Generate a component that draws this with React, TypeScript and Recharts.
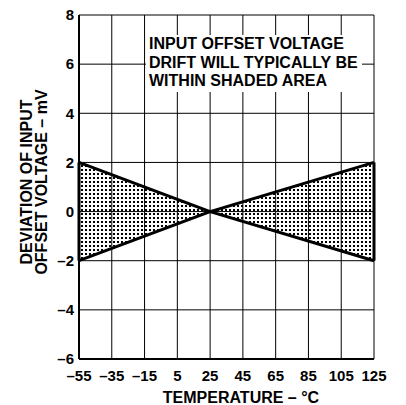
import {
  Area,
  CartesianGrid,
  ComposedChart,
  ReferenceLine,
  XAxis,
  YAxis,
} from 'recharts';

const temps = [-55, 25, 125];
const upper = [2, 0, 2];
const lower = [-2, 0, -2];

const xTicks = [-55, -35, -15, 5, 25, 45, 65, 85, 105, 125];
const yTicks = [-6, -4, -2, 0, 2, 4, 6, 8];

const noteLines = [
  'INPUT OFFSET VOLTAGE',
  'DRIFT WILL TYPICALLY BE',
  'WITHIN SHADED AREA',
];

const data = temps.map((t, i) => ({ t, band: [lower[i], upper[i]] }));

const font = 'Arial, "Liberation Sans", Helvetica, sans-serif';
const dash = (v: number) => String(v).replace('-', '\u2013');

const last = temps.length - 1;

export default function App() {
  return (
    <div style={{ position: 'fixed', left: 0, top: 0, width: 406, height: 405, background: '#fff' }}>
      <ComposedChart
        width={406}
        height={405}
        data={data}
        margin={{ top: 15, right: 32, bottom: 0, left: 0 }}
      >
        <defs>
          <pattern id="dots" x={0} y={0} width={4} height={4} patternUnits="userSpaceOnUse">
            <rect x={1} y={1} width={2} height={2} fill="#000" />
          </pattern>
        </defs>
        <CartesianGrid stroke="#000" strokeWidth={1} />
        <XAxis
          dataKey="t"
          type="number"
          domain={[-55, 125]}
          ticks={xTicks}
          height={46}
          tickLine={false}
          tickSize={0}
          tickMargin={11}
          axisLine={{ stroke: '#000', strokeWidth: 2 }}
          tickFormatter={dash}
          tick={{ fill: '#000', fontSize: 15, fontWeight: 'bold', fontFamily: font }}
          label={{
            content: () => (
              <text
                x={241}
                y={403}
                textAnchor="middle"
                fill="#000"
                fontSize={16}
                fontWeight="bold"
                fontFamily={font}
              >
                {'TEMPERATURE \u2013 \u00b0C'}
              </text>
            ),
          }}
        />
        <YAxis
          type="number"
          domain={[-6, 8]}
          ticks={yTicks}
          width={79}
          tickLine={false}
          tickSize={0}
          tickMargin={5}
          axisLine={{ stroke: '#000', strokeWidth: 2 }}
          tickFormatter={dash}
          tick={{ fill: '#000', fontSize: 15, fontWeight: 'bold', fontFamily: font }}
          label={{
            content: () => (
              <g fontFamily={font} fontSize={16} fontWeight="bold" fill="#000">
                <text x={26} y={182} textAnchor="middle" dominantBaseline="central" transform="rotate(-90 26 182)">
                  DEVIATION OF INPUT
                </text>
                <text x={41} y={182} textAnchor="middle" dominantBaseline="central" transform="rotate(-90 41 182)">
                  {'OFFSET VOLTAGE \u2013 mV'}
                </text>
              </g>
            ),
          }}
        />
        <Area
          dataKey="band"
          type="linear"
          fill="url(#dots)"
          fillOpacity={1}
          stroke="#000"
          strokeWidth={3}
          isAnimationActive={false}
          activeDot={false}
        />
        <ReferenceLine
          segment={[
            { x: temps[0], y: lower[0] },
            { x: temps[0], y: upper[0] },
          ]}
          stroke="#000"
          strokeWidth={3}
        />
        <ReferenceLine
          segment={[
            { x: temps[last], y: lower[last] },
            { x: temps[last], y: upper[last] },
          ]}
          stroke="#000"
          strokeWidth={3}
        />
      </ComposedChart>
      <div
        style={{
          position: 'absolute',
          left: 146,
          top: 35,
          width: 216,
          height: 57,
          background: '#fff',
          boxSizing: 'border-box',
          paddingLeft: 3,
          fontFamily: font,
          fontWeight: 'bold',
          fontSize: 16,
          lineHeight: '18.5px',
          color: '#000',
          whiteSpace: 'nowrap',
        }}
      >
        {noteLines.map((l) => (
          <div key={l}>{l}</div>
        ))}
      </div>
    </div>
  );
}
